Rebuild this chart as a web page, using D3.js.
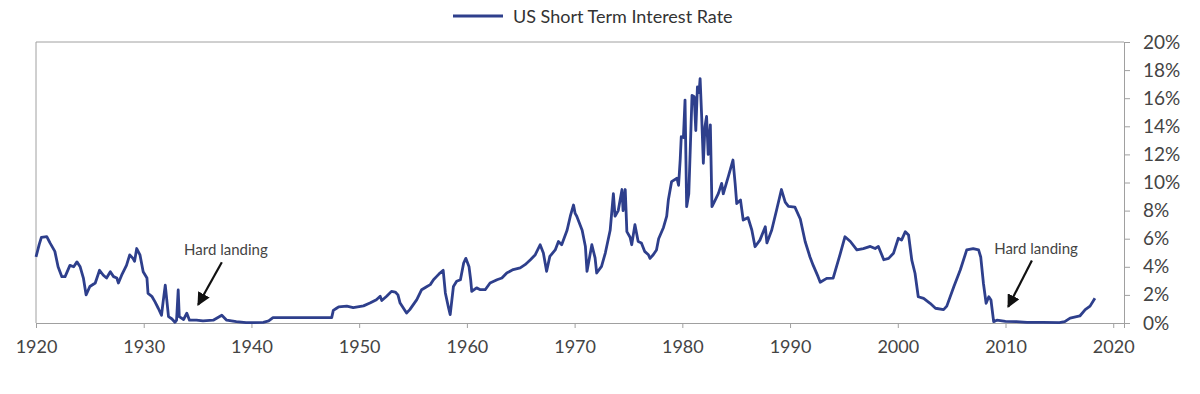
<!DOCTYPE html>
<html>
<head>
<meta charset="utf-8">
<script src="https://cdn.jsdelivr.net/npm/d3@7"></script>
<style>
  html, body { margin: 0; padding: 0; background: #fff; }
  svg { display: block; }
  text { font-family: Lato, "Open Sans", sans-serif; }
</style>
</head>
<body>
<svg id="chart" width="1200" height="394"></svg>
<script>
// ---- DATA ----
const seriesName = "US Short Term Interest Rate";
const years = [
  1920.0,1920.3,1920.5,1921.0,1921.3,1921.75,1922.05,1922.4,1922.7,1923.15,1923.5,1923.8,1924.1,1924.4,1924.65,
  1925.0,1925.5,1925.9,1926.25,1926.55,1926.9,1927.2,1927.5,1927.65,1927.95,1928.4,1928.7,1929.0,1929.15,1929.35,
  1929.65,1929.95,1930.3,1930.4,1930.75,1931.05,1931.35,1931.65,1931.8,1932.0,1932.2,1932.3,1932.6,1932.9,1933.05,
  1933.2,1933.3,1933.7,1934.0,1934.25,1934.9,1935.5,1936.45,1937.25,1937.7,1938.6,1939.5,1940.2,1941.1,1941.6,
  1942.0,1947.45,1947.6,1947.9,1948.1,1948.85,1949.45,1950.4,1951.0,1951.6,1951.95,1952.1,1952.55,1953.0,1953.35,
  1953.6,1953.8,1954.4,1954.7,1955.35,1955.8,1956.3,1956.6,1956.9,1957.2,1957.5,1957.8,1958.0,1958.3,1958.45,
  1958.75,1959.05,1959.4,1959.7,1959.9,1960.2,1960.35,1960.45,1960.9,1961.25,1961.7,1962.15,1962.8,1963.25,1963.7,
  1964.3,1964.95,1965.4,1965.9,1966.35,1966.8,1967.1,1967.4,1967.7,1968.2,1968.5,1968.8,1969.3,1969.6,1969.9,
  1970.05,1970.2,1970.7,1971.0,1971.15,1971.6,1971.9,1972.05,1972.5,1972.85,1973.3,1973.6,1973.75,1974.05,1974.4,
  1974.5,1974.7,1974.85,1975.15,1975.3,1975.6,1975.9,1976.2,1976.5,1976.85,1977.0,1977.3,1977.6,1977.8,1978.25,
  1978.55,1978.7,1979.0,1979.5,1979.65,1979.8,1979.9,1980.1,1980.25,1980.4,1980.6,1980.9,1981.1,1981.25,1981.4,
  1981.55,1981.65,1981.8,1981.95,1982.1,1982.25,1982.4,1982.6,1982.75,1983.05,1983.35,1983.65,1983.8,1984.3,1984.7,
  1984.9,1985.05,1985.4,1985.65,1986.1,1986.45,1986.75,1987.2,1987.7,1987.85,1988.3,1988.75,1989.2,1989.55,1989.85,
  1990.45,1990.95,1991.4,1991.85,1992.15,1992.6,1992.8,1993.4,1994.0,1994.65,1995.1,1995.6,1996.2,1996.8,1997.45,
  1997.9,1998.2,1998.7,1999.15,1999.6,2000.05,2000.35,2000.7,2001.0,2001.3,2001.6,2001.9,2002.4,2003.0,2003.5,
  2004.25,2004.55,2005.2,2005.8,2006.4,2007.0,2007.5,2007.7,2007.95,2008.2,2008.45,2008.65,2008.9,2009.2,2010.0,
  2011.0,2012.0,2013.5,2015.0,2015.5,2016.0,2016.9,2017.4,2017.85,2018.3
];
const rates = [
  4.7,5.6,6.1,6.15,5.7,5.1,4.0,3.3,3.3,4.1,4.0,4.35,4.0,3.2,2.0,
  2.6,2.85,3.75,3.4,3.2,3.65,3.3,3.2,2.85,3.4,4.1,4.85,4.6,4.4,5.3,
  4.85,3.65,3.2,2.1,1.9,1.5,1.05,0.55,1.5,2.7,1.2,0.45,0.3,0.05,0.2,
  2.35,0.45,0.25,0.7,0.2,0.2,0.15,0.2,0.55,0.2,0.1,0.03,0.02,0.05,0.15,
  0.38,0.38,0.9,1.05,1.15,1.2,1.1,1.22,1.42,1.66,1.9,1.6,1.9,2.25,2.2,
  2.0,1.42,0.71,0.95,1.66,2.37,2.6,2.73,3.08,3.32,3.56,3.75,2.14,1.07,0.6,
  2.6,2.97,3.08,4.27,4.6,4.0,3.08,2.25,2.5,2.37,2.37,2.85,3.08,3.2,3.56,
  3.8,3.92,4.15,4.5,4.86,5.57,4.98,3.68,4.74,5.2,5.8,5.57,6.6,7.6,8.4,
  7.8,7.6,6.6,5.45,3.68,5.57,4.63,3.56,4.03,4.98,6.6,9.2,7.6,8.0,9.5,
  8.0,9.5,6.5,6.1,5.57,7.0,5.8,5.7,5.1,4.86,4.6,4.86,5.2,6.0,6.8,
  7.6,8.75,10.06,10.3,9.8,11.6,13.26,13.2,15.87,8.28,9.2,16.2,16.1,13.7,16.8,
  16.4,17.4,14.6,11.37,13.97,14.7,12.0,14.1,8.28,8.75,9.23,9.94,9.2,10.5,11.6,
  9.94,8.5,8.75,7.33,7.5,6.62,5.43,5.9,6.85,5.7,6.62,8.04,9.5,8.6,8.3,
  8.25,7.4,5.8,4.7,4.1,3.3,2.9,3.18,3.2,4.9,6.14,5.8,5.2,5.3,5.45,
  5.3,5.45,4.5,4.6,4.96,6.03,5.9,6.5,6.26,4.48,3.54,1.87,1.75,1.4,1.05,
  0.95,1.2,2.58,3.77,5.2,5.3,5.2,4.7,2.83,1.4,1.87,1.64,0.1,0.2,0.12,
  0.1,0.05,0.05,0.03,0.1,0.35,0.5,0.95,1.2,1.76
];
const xTicks = [1920,1930,1940,1950,1960,1970,1980,1990,2000,2010,2020];
const yTicks = [0,2,4,6,8,10,12,14,16,18,20];
const annoLabels = ["Hard landing","Hard landing"];
const annoTextYear = [1933.75, 2008.95];
const annoTextRate = [4.83, 4.93];
const arrowFromYear = [1937.25, 2012.45];
const arrowFromRate = [4.32, 4.45];
const arrowToYear = [1935.05, 2010.25];
const arrowToRate = [1.3, 1.15];

// ---- CHART ----
const svg = d3.select("#chart");
const mLeft = 36, mRight = 1124, mTop = 42, mBottom = 323;
const blue = "#2e3f8c";
const grey = "#a0a0a0";

const x = d3.scaleLinear().domain([1920, 2021]).range([mLeft, mRight]);
const y = d3.scaleLinear().domain([0, 20]).range([mBottom, mTop]);

// frame (top & left)
svg.append("line").attr("x1", mLeft).attr("x2", mRight).attr("y1", mTop).attr("y2", mTop)
  .attr("stroke", grey).attr("stroke-width", 1);
svg.append("line").attr("x1", mLeft).attr("x2", mLeft).attr("y1", mTop).attr("y2", mBottom)
  .attr("stroke", grey).attr("stroke-width", 1);

// x axis
const xAxis = svg.append("g").attr("transform", `translate(0,${mBottom})`)
  .call(d3.axisBottom(x).tickValues(xTicks).tickFormat(d3.format("d")).tickSize(5).tickPadding(12));
xAxis.select(".domain").attr("stroke", grey);
xAxis.selectAll(".tick line").attr("stroke", grey);
xAxis.selectAll(".tick text").attr("fill", "#444").style("font-size", "18px").style("font-family", "Lato, sans-serif");

// y axis (right)
const yAxis = svg.append("g").attr("transform", `translate(${mRight},0)`)
  .call(d3.axisRight(y).tickValues(yTicks).tickFormat(d => d + "%").tickSize(6).tickPadding(13));
yAxis.select(".domain").attr("stroke", grey);
yAxis.selectAll(".tick line").attr("stroke", grey);
yAxis.selectAll(".tick text").attr("fill", "#444").style("font-size", "19px").style("font-family", "Lato, sans-serif");

// line
const data = years.map((yr, i) => ({ year: yr, rate: rates[i] }));
const line = d3.line().x(d => x(d.year)).y(d => y(d.rate));
svg.append("path").datum(data)
  .attr("d", line).attr("fill", "none").attr("stroke", blue)
  .attr("stroke-width", 2.8).attr("stroke-linejoin", "round");

// legend
svg.append("line").attr("x1", 453).attr("x2", 503).attr("y1", 16).attr("y2", 16)
  .attr("stroke", blue).attr("stroke-width", 3);
svg.append("text").attr("x", 513).attr("y", 23).text(seriesName)
  .attr("fill", "#333").style("font-size", "18px");

// annotations
const defs = svg.append("defs");
defs.append("marker").attr("id", "arrowhead").attr("viewBox", "0 0 10 10")
  .attr("refX", 9).attr("refY", 5).attr("markerWidth", 6).attr("markerHeight", 6)
  .attr("orient", "auto").attr("markerUnits", "strokeWidth")
  .append("path").attr("d", "M0,0 L10,5 L0,10 Z").attr("fill", "#111");

annoLabels.forEach((lab, i) => {
  svg.append("text").attr("x", x(annoTextYear[i])).attr("y", y(annoTextRate[i]))
    .text(lab).attr("fill", "#444").style("font-size", "15px");
  svg.append("line")
    .attr("x1", x(arrowFromYear[i])).attr("y1", y(arrowFromRate[i]))
    .attr("x2", x(arrowToYear[i])).attr("y2", y(arrowToRate[i]))
    .attr("stroke", "#111").attr("stroke-width", 2.2)
    .attr("marker-end", "url(#arrowhead)");
});
</script>
</body>
</html>
